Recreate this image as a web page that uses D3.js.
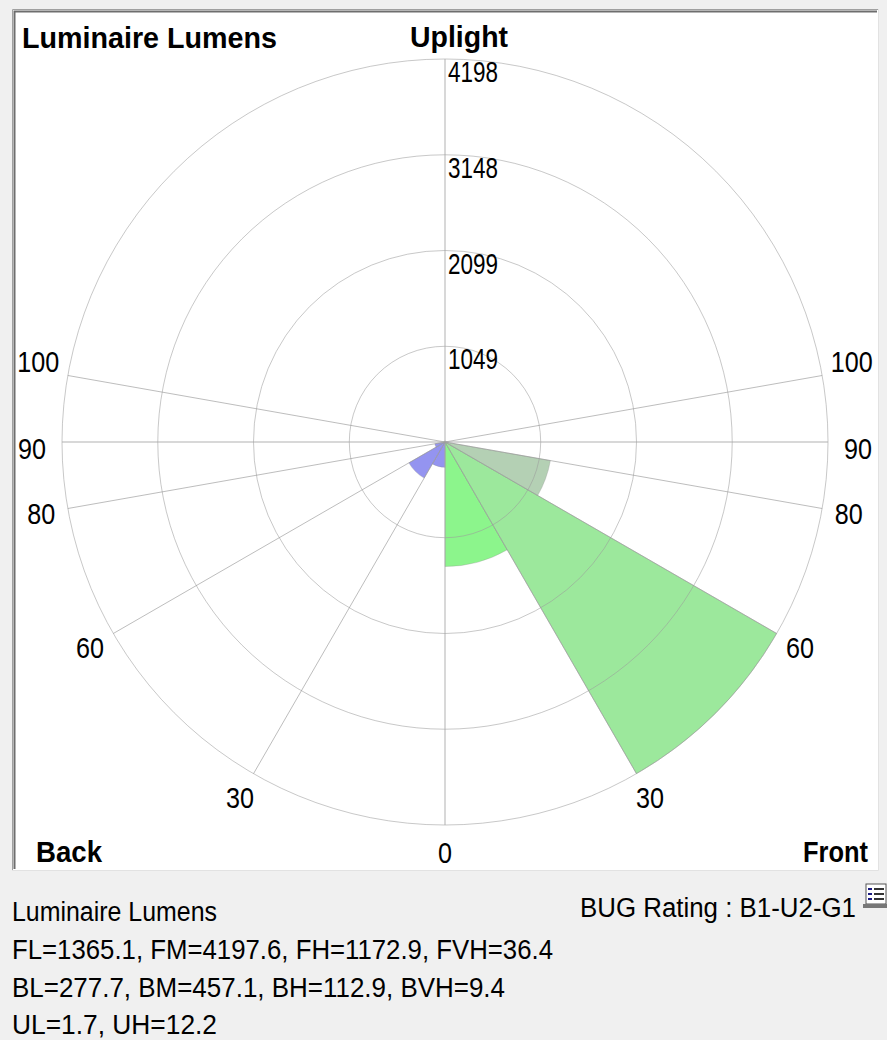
<!DOCTYPE html>
<html>
<head>
<meta charset="utf-8">
<script src="https://cdn.jsdelivr.net/npm/d3@7"></script>
<style>
  html, body { margin: 0; padding: 0; background: #f0f0f0; }
  svg { display: block; }
  text { font-family: "Liberation Sans Narrow", "Arial Narrow", "Liberation Sans", Arial, sans-serif; fill: #000; }
</style>
</head>
<body>
<svg id="chart" width="887" height="1040"></svg>
<script>
(() => {
  // lumen zones, in the order the summary lists them
  const zones = ["FL", "FM", "FH", "FVH", "BL", "BM", "BH", "BVH", "UL", "UH"];
  const lumens = [1365.1, 4197.6, 1172.9, 36.4, 277.7, 457.1, 112.9, 9.4, 1.7, 12.2];
  // zone limits, degrees from nadir
  const zoneFrom = [0, 30, 60, 80, 0, 30, 60, 80, 90, 100];
  const zoneTo = [30, 60, 80, 90, 30, 60, 80, 90, 100, 180];
  const zoneSide = ["front", "front", "front", "front", "back", "back", "back", "back", "both", "both"];

  const ringTicks = [1049, 2099, 3148, 4198];
  const spokeAngles = [0, 30, 60, 80, 90, 100];
  const bugRating = "B1-U2-G1";

  const zoneColor = {
    FL: "#8cf58c", FM: "#9ce89c", FH: "#b4d0b4", FVH: "#b4d0b4",
    BL: "#9494f0", BM: "#9494f0", BH: "#9494f0", BVH: "#9494f0",
    UL: "#c8c8c8", UH: "#c8c8c8",
  };

  const svg = d3.select("#chart");
  const cx = 445, cy = 442, R = 383;
  const r = d3.scaleLinear().domain([0, d3.max(ringTicks)]).range([0, R]);
  const rad = (deg) => (deg * Math.PI) / 180;

  // panel with a sunken border
  svg.append("rect").attr("x", 12).attr("y", 9).attr("width", 866).attr("height", 861).attr("fill", "#fff");
  svg.append("path").attr("d", "M12.5,870V9.5H878").attr("fill", "none").attr("stroke", "#a0a0a0");
  svg.append("path").attr("d", "M14.5,869V11.5H877").attr("fill", "none").attr("stroke", "#6e6e6e").attr("stroke-width", 2);
  svg.append("path").attr("d", "M12,870.5H878.5V9").attr("fill", "none").attr("stroke", "#e2e2e2");

  const g = svg.append("g").attr("transform", `translate(${cx},${cy})`);

  // sectors: d3 angle pi is the nadir, front opens to the right
  const arc = d3.arc().innerRadius(0);
  const sectors = [];
  zones.forEach((z, i) => {
    const sides = zoneSide[i] === "both" ? ["front", "back"] : [zoneSide[i]];
    sides.forEach((s) => {
      const sign = s === "front" ? -1 : 1;
      sectors.push({
        zone: z,
        outerRadius: r(lumens[i]),
        startAngle: Math.PI + sign * rad(zoneFrom[i]),
        endAngle: Math.PI + sign * rad(zoneTo[i]),
      });
    });
  });

  g.selectAll("path.sector")
    .data(sectors)
    .join("path")
    .attr("class", "sector")
    .attr("d", (d) => arc(d))
    .attr("fill", (d) => zoneColor[d.zone])
    .attr("stroke", "#8a8a8a")
    .attr("stroke-opacity", 0.3)
    .attr("stroke-width", 1);

  // grid
  g.selectAll("circle.ring")
    .data(ringTicks)
    .join("circle")
    .attr("class", "ring")
    .attr("r", (d) => r(d))
    .attr("fill", "none")
    .attr("stroke", "#9a9a9a")
    .attr("stroke-opacity", 0.55);

  const spokes = [];
  spokeAngles.forEach((a) => {
    spokes.push({ a, side: 1 });
    if (a > 0) spokes.push({ a, side: -1 });
  });
  spokes.push({ a: 180, side: 1 });

  g.selectAll("line.spoke")
    .data(spokes)
    .join("line")
    .attr("class", "spoke")
    .attr("x1", 0)
    .attr("y1", 0)
    .attr("x2", (d) => d.side * R * Math.sin(rad(d.a)))
    .attr("y2", (d) => R * Math.cos(rad(d.a)))
    .attr("stroke", (d) => (d.a % 90 === 0 ? "#a8a8a8" : "#9a9a9a"))
    .attr("stroke-opacity", (d) => (d.a % 90 === 0 ? 0.9 : 0.65));

  // ring values, just under each ring top
  g.selectAll("text.ringlab")
    .data(ringTicks)
    .join("text")
    .attr("class", "ringlab")
    .attr("x", 3)
    .attr("y", (d) => -r(d) + 23)
    .attr("font-size", 30)
    .attr("textLength", 50)
    .attr("lengthAdjust", "spacingAndGlyphs")
    .text((d) => d);

  // angle labels outside the rim
  const angleLabels = [];
  spokeAngles.forEach((a) => {
    angleLabels.push({ a, side: 1 });
    if (a > 0) angleLabels.push({ a, side: -1 });
  });
  const nudge = (a) => (a > 90 ? -10 : a === 90 ? 6 : 0);
  g.selectAll("text.anglab")
    .data(angleLabels)
    .join("text")
    .attr("class", "anglab")
    .attr("x", (d) => d.side * (d.a >= 90 ? 413 : 410) * Math.sin(rad(d.a)))
    .attr("y", (d) => 410 * Math.cos(rad(d.a)) + 11 + nudge(d.a))
    .attr("text-anchor", "middle")
    .attr("font-size", 30)
    .attr("textLength", (d) => String(d.a).length * 14)
    .attr("lengthAdjust", "spacingAndGlyphs")
    .text((d) => d.a);

  // corner titles
  const bold = (x, y, t, len, anchor) =>
    svg.append("text")
      .attr("x", x).attr("y", y)
      .attr("text-anchor", anchor || "start")
      .attr("font-size", 30).attr("font-weight", 700)
      .attr("textLength", len).attr("lengthAdjust", "spacingAndGlyphs")
      .text(t);
  bold(22, 48, "Luminaire Lumens", 255);
  bold(cx + 14, 47, "Uplight", 98, "middle");
  bold(36, 862, "Back", 66);
  bold(868, 862, "Front", 65, "end");

  // summary below the panel
  const pair = (from, to) =>
    zones.slice(from, to).map((z, i) => `${z}=${lumens[from + i]}`).join(", ");
  const lines = [
    { t: "Luminaire Lumens", x: 12, y: 921, len: 205 },
    { t: pair(0, 4), x: 12, y: 959, len: 541 },
    { t: pair(4, 8), x: 12, y: 997, len: 493 },
    { t: pair(8, 10), x: 12, y: 1034, len: 205 },
    { t: `BUG Rating : ${bugRating}`, x: 580, y: 917, len: 276 },
  ];
  svg.selectAll("text.summary")
    .data(lines)
    .join("text")
    .attr("class", "summary")
    .attr("x", (d) => d.x)
    .attr("y", (d) => d.y)
    .attr("font-size", 27)
    .attr("textLength", (d) => d.len)
    .attr("lengthAdjust", "spacingAndGlyphs")
    .text((d) => d.t);

  // little report icon
  const icon = svg.append("g").attr("transform", "translate(863,884)");
  icon.append("rect").attr("x", 3).attr("y", 0).attr("width", 20).attr("height", 20).attr("fill", "#fff").attr("stroke", "#555");
  [4, 9, 14].forEach((yy) => {
    icon.append("rect").attr("x", 5).attr("y", yy).attr("width", 4).attr("height", 2).attr("fill", "#1a1a80");
    icon.append("rect").attr("x", 11).attr("y", yy).attr("width", 10).attr("height", 2).attr("fill", "#333");
  });
  icon.append("rect").attr("x", 0).attr("y", 20).attr("width", 24).attr("height", 4).attr("fill", "#777");
})();
</script>
</body>
</html>
